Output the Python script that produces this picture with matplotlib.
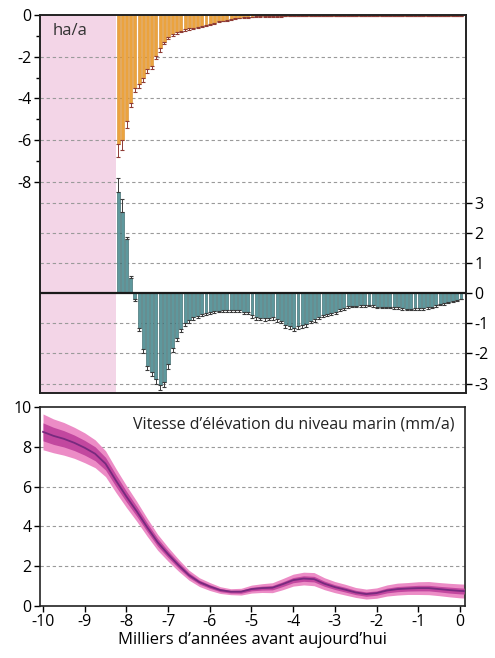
import numpy as np
import matplotlib
matplotlib.use("Agg")
import matplotlib.pyplot as plt

plt.rcParams['font.family'] = ['Open Sans', 'DejaVu Sans']
plt.rcParams['axes.unicode_minus'] = False

# ---------------- data ----------------
bar_years = [round(-8.2 + 0.1 * i, 1) for i in range(83)]

# orange bars (ha/a, left axis)
orange_vals = [-6.2, -6.0, -5.1, -4.2, -3.5, -3.3, -3.0, -2.6, -2.45, -1.95,
               -1.6, -1.28, -1.05, -0.92, -0.82, -0.75, -0.69, -0.64, -0.6, -0.56,
               -0.52, -0.47, -0.41, -0.36, -0.31, -0.27, -0.23, -0.19, -0.16, -0.13,
               -0.11, -0.09, -0.08, -0.07, -0.07, -0.06, -0.06, -0.05, -0.05, -0.05,
               -0.04, -0.04, -0.04, -0.04, -0.03, -0.03, -0.03, -0.03, -0.03, -0.03,
               -0.03, -0.03, -0.03, -0.03, -0.03, -0.03, -0.03, -0.03, -0.04, -0.04,
               -0.04, -0.04, -0.04, -0.04, -0.04, -0.04, -0.04, -0.04, -0.04, -0.04,
               -0.04, -0.04, -0.04, -0.04, -0.04, -0.04, -0.04, -0.04, -0.04, -0.04,
               -0.04, -0.04, -0.04]
orange_err = [0.6, 0.45, 0.3, 0.2, 0.2, 0.2, 0.2, 0.2, 0.15, 0.15,
              0.15, 0.12, 0.1, 0.08, 0.08, 0.07, 0.06, 0.06, 0.06, 0.06,
              0.05, 0.05, 0.05, 0.05, 0.04, 0.04, 0.04, 0.04, 0.03, 0.03,
              0.03, 0.03, 0.03, 0.03, 0.03, 0.03, 0.03, 0.03, 0.03, 0.03,
              0.03, 0.02, 0.02, 0.02, 0.02, 0.02, 0.02, 0.02, 0.02, 0.02,
              0.02, 0.02, 0.02, 0.02, 0.02, 0.02, 0.02, 0.02, 0.02, 0.02,
              0.02, 0.02, 0.02, 0.02, 0.02, 0.02, 0.02, 0.02, 0.02, 0.02,
              0.02, 0.02, 0.02, 0.02, 0.02, 0.02, 0.02, 0.02, 0.02, 0.02,
              0.02, 0.02, 0.02]

# teal bars (right axis)
teal_vals = [3.35, 2.7, 1.8, 0.5, -0.2, -1.15, -1.85, -2.4, -2.6, -2.85,
             -3.05, -2.95, -2.35, -1.82, -1.48, -1.2, -1.0, -0.9, -0.8, -0.75,
             -0.69, -0.67, -0.62, -0.6, -0.58, -0.57, -0.57, -0.56, -0.55, -0.56,
             -0.62, -0.61, -0.74, -0.8, -0.82, -0.84, -0.82, -0.8, -0.87, -0.92,
             -1.05, -1.1, -1.15, -1.1, -1.05, -1.02, -0.92, -0.87, -0.8, -0.73,
             -0.7, -0.66, -0.62, -0.54, -0.49, -0.43, -0.42, -0.42, -0.41, -0.4,
             -0.39, -0.4, -0.45, -0.45, -0.45, -0.45, -0.47, -0.47, -0.5, -0.52,
             -0.52, -0.51, -0.5, -0.5, -0.47, -0.45, -0.41, -0.36, -0.34, -0.3,
             -0.27, -0.22, -0.18]
teal_err = [0.45, 0.4, 0.05, 0.05, 0.06, 0.12, 0.15, 0.15, 0.15, 0.15,
            0.15, 0.15, 0.15, 0.13, 0.12, 0.1, 0.1, 0.08, 0.08, 0.07,
            0.07, 0.06, 0.06, 0.06, 0.06, 0.06, 0.06, 0.06, 0.06, 0.06,
            0.07, 0.07, 0.08, 0.08, 0.08, 0.08, 0.08, 0.08, 0.08, 0.08,
            0.1, 0.1, 0.1, 0.1, 0.1, 0.1, 0.08, 0.08, 0.07, 0.07,
            0.07, 0.06, 0.06, 0.06, 0.06, 0.05, 0.05, 0.05, 0.05, 0.05,
            0.05, 0.05, 0.05, 0.05, 0.05, 0.05, 0.05, 0.05, 0.05, 0.05,
            0.05, 0.05, 0.05, 0.05, 0.05, 0.05, 0.04, 0.04, 0.04, 0.03,
            0.03, 0.03, 0.03]

# sea-level rise rate (mm/a)
sl_years = [-10.0, -9.75, -9.5, -9.25, -9.0, -8.75, -8.5, -8.25, -8.0, -7.75,
            -7.5, -7.25, -7.0, -6.75, -6.5, -6.25, -6.0, -5.75, -5.5, -5.25,
            -5.0, -4.75, -4.5, -4.25, -4.0, -3.75, -3.5, -3.25, -3.0, -2.75,
            -2.5, -2.25, -2.0, -1.75, -1.5, -1.25, -1.0, -0.75, -0.5, -0.25,
            0.0, 0.1]
sl_mean = [8.75, 8.55, 8.4, 8.2, 7.95, 7.65, 7.15, 6.3, 5.5, 4.75,
           3.95, 3.2, 2.6, 2.05, 1.55, 1.2, 0.98, 0.8, 0.72, 0.72,
           0.85, 0.9, 0.92, 1.1, 1.3, 1.38, 1.35, 1.12, 0.95, 0.82,
           0.68, 0.6, 0.65, 0.78, 0.85, 0.88, 0.9, 0.9, 0.85, 0.8,
           0.76, 0.75]
sl_outer = [0.9, 0.85, 0.82, 0.78, 0.75, 0.7, 0.65, 0.6, 0.55, 0.5,
            0.45, 0.4, 0.35, 0.3, 0.25, 0.22, 0.2, 0.17, 0.15, 0.17,
            0.2, 0.22, 0.25, 0.28, 0.3, 0.32, 0.33, 0.3, 0.28, 0.27,
            0.25, 0.25, 0.26, 0.28, 0.3, 0.3, 0.32, 0.33, 0.33, 0.34,
            0.35, 0.35]
sl_inner = [0.45, 0.43, 0.41, 0.39, 0.37, 0.35, 0.32, 0.3, 0.27, 0.25,
            0.22, 0.2, 0.17, 0.15, 0.12, 0.1, 0.09, 0.08, 0.07, 0.08,
            0.09, 0.1, 0.11, 0.12, 0.13, 0.14, 0.14, 0.13, 0.12, 0.12,
            0.11, 0.11, 0.11, 0.12, 0.13, 0.13, 0.14, 0.14, 0.14, 0.15,
            0.15, 0.15]

left_ticks = [0, -2, -4, -6, -8]
right_ticks = [3, 2, 1, 0, -1, -2, -3]
bottom_yticks = [0, 2, 4, 6, 8, 10]
bottom_xticks = [-10, -9, -8, -7, -6, -5, -4, -3, -2, -1, 0]

# ---------------- figure ----------------
fig = plt.figure(figsize=(4.95, 6.58), dpi=100)
xlim = (-10.072, 0.12)
grid_kw = dict(color='#9a9a9a', linewidth=0.8, linestyle=(0, (3, 2.5)), zorder=0.5)
fs = 11.5

# top panel
ax1 = fig.add_axes([0.0808, 0.4027, 0.8606, 0.5745])
ax1.set_xlim(*xlim)
ax1.set_ylim(-18.11, 0)
ax1.axvspan(xlim[0], -8.25, color='#F3D5E7', zorder=0, lw=0)
for v in [-2, -4, -6, -8]:
    ax1.axhline(v, **grid_kw)
ax1.bar(bar_years, orange_vals, width=0.07, color='#EBA33E', edgecolor='#D88D2E',
        linewidth=0.4, zorder=2)
ax1.errorbar(bar_years, orange_vals, yerr=[orange_err, [0] * len(orange_err)],
             fmt='none', ecolor='#8E3B35', elinewidth=0.7, capsize=1.6, capthick=0.8, zorder=3)
ax1.set_yticks(left_ticks)
ax1.set_yticklabels([str(t) for t in left_ticks])
ax1.set_yticks([-1, -3, -5, -7], minor=True)
ax1.set_xticks([])
ax1.tick_params(axis='y', which='major', direction='out', length=4, width=1, labelsize=fs, pad=2)
ax1.tick_params(axis='y', which='minor', direction='out', length=3, width=1)
ax1.text(-9.77, -0.75, 'ha/a', fontsize=12, ha='left', va='center', color='#333333')

ax2 = ax1.twinx()
ax2.set_xlim(*xlim)
ax2.set_ylim(-3.31, 9.21)
for v in [3, 2, 1, -1, -2, -3]:
    ax2.axhline(v, **grid_kw)
ax2.bar(bar_years, teal_vals, width=0.07, color='#5E989D', edgecolor='#2E5E62',
        linewidth=0.4, zorder=2)
teal_lo = [e if v < 0 else 0 for v, e in zip(teal_vals, teal_err)]
teal_hi = [e if v >= 0 else 0 for v, e in zip(teal_vals, teal_err)]
ax2.errorbar(bar_years, teal_vals, yerr=[teal_lo, teal_hi], fmt='none',
             ecolor='#3a3a3a', elinewidth=0.7, capsize=1.6, capthick=0.8, zorder=3)
ax2.axhline(0, color='#1a1a1a', linewidth=1.6, zorder=4)
ax2.set_yticks(right_ticks)
ax2.set_yticklabels([str(t) for t in right_ticks])
ax2.tick_params(axis='y', direction='out', length=4, width=1, labelsize=fs, pad=2)
for ax in (ax1, ax2):
    for s in ax.spines.values():
        s.set_linewidth(1.2)
        s.set_color('#222222')
ax1.set_zorder(ax2.get_zorder() - 1)
ax2.patch.set_visible(False)

# bottom panel
ax3 = fig.add_axes([0.0808, 0.079, 0.8586, 0.3025])
ax3.set_xlim(*xlim)
ax3.set_ylim(0, 10)
for v in [2, 4, 6, 8]:
    ax3.axhline(v, **grid_kw)
m = np.array(sl_mean)
o = np.array(sl_outer)
i_ = np.array(sl_inner)
ax3.fill_between(sl_years, m - o, m + o, color='#EC8CC6', lw=0, zorder=2)
ax3.fill_between(sl_years, m - i_, m + i_, color='#C2479F', lw=0, zorder=3)
ax3.plot(sl_years, sl_mean, color='#772A7E', lw=1.3, zorder=4)
ax3.set_yticks(bottom_yticks)
ax3.set_xticks(bottom_xticks)
ax3.set_xticklabels([str(t) for t in bottom_xticks])
ax3.tick_params(direction='out', length=4, width=1, labelsize=fs, pad=2)
for s in ax3.spines.values():
    s.set_linewidth(1.2)
    s.set_color('#222222')
ax3.text(-0.12, 9.1, 'Vitesse d\u2019élévation du niveau marin (mm/a)', fontsize=11.5,
         ha='right', va='center', color='#222222')
ax3.set_xlabel('Milliers d\u2019années avant aujourd\u2019hui', fontsize=12, labelpad=1)

fig.savefig('out.png', dpi=100)
